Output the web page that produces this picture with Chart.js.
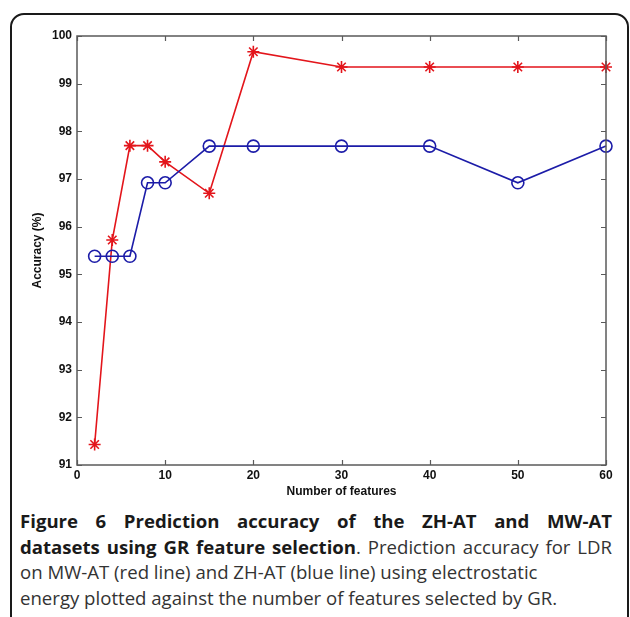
<!DOCTYPE html>
<html>
<head>
<meta charset="utf-8">
<script src="https://cdn.jsdelivr.net/npm/chart.js@4"></script>
<style>
  html, body { margin:0; padding:0; background:#fff; width:630px; height:617px; overflow:hidden; }
  #frame { position:absolute; left:10px; top:13px; width:615px; height:640px; border:2px solid #1a1a1a; border-radius:14px; }
  #wrap { position:absolute; left:0; top:0; width:630px; height:500px; }
  #caption { position:absolute; left:20px; top:508px; width:592px; font-family:"Open Sans", sans-serif; font-size:18.6px; line-height:25.5px; color:#333; white-space:nowrap; }
  #caption .j { text-align:justify; text-align-last:justify; white-space:normal; }
  #caption b { color:#1a1a1a; font-weight:700; }
</style>
</head>
<body>
<div id="frame"></div>
<div id="wrap"><canvas id="c" width="630" height="500"></canvas></div>
<div id="caption">
  <div class="j"><b>Figure 6 Prediction accuracy of the ZH-AT and MW-AT</b></div>
  <div class="j"><b>datasets using GR feature selection</b>. Prediction accuracy for LDR</div>
  <div>on MW-AT (red line) and ZH-AT (blue line) using electrostatic</div>
  <div>energy plotted against the number of features selected by GR.</div>
</div>
<script>
const featureCounts = [2, 4, 6, 8, 10, 15, 20, 30, 40, 50, 60];
const mwAtAccuracy = [91.43, 95.72, 97.70, 97.70, 97.36, 96.70, 99.67, 99.35, 99.35, 99.35, 99.35];
const zhAtAccuracy = [95.38, 95.38, 95.38, 96.92, 96.92, 97.69, 97.69, 97.69, 97.69, 96.92, 97.69];
const xTicks = [0, 10, 20, 30, 40, 50, 60];
const yTicks = [91, 92, 93, 94, 95, 96, 97, 98, 99, 100];

const toPoints = (xs, ys) => xs.map((x, i) => ({x: x, y: ys[i]}));

const boxPlugin = {
  id: 'matlabBox',
  afterDraw(chart) {
    const {ctx, chartArea: a, scales} = chart;
    ctx.save();
    ctx.strokeStyle = '#5a5a5a';
    ctx.lineWidth = 1.5;
    ctx.strokeRect(a.left, a.top, a.right - a.left, a.bottom - a.top);
    ctx.lineWidth = 1.2;
    const L = 5;
    ctx.beginPath();
    scales.x.ticks.forEach(t => {
      const px = Math.round(scales.x.getPixelForValue(t.value)) + 0.5;
      ctx.moveTo(px, a.bottom); ctx.lineTo(px, a.bottom - L);
      ctx.moveTo(px, a.top); ctx.lineTo(px, a.top + L);
    });
    scales.y.ticks.forEach(t => {
      const py = Math.round(scales.y.getPixelForValue(t.value)) + 0.5;
      ctx.moveTo(a.left, py); ctx.lineTo(a.left + L, py);
      ctx.moveTo(a.right, py); ctx.lineTo(a.right - L, py);
    });
    ctx.stroke();
    ctx.restore();
  }
};

const axisFont = { family: 'Liberation Sans, Arial, sans-serif', size: 12, weight: 'bold' };

new Chart(document.getElementById('c'), {
  type: 'line',
  data: {
    datasets: [
      {
        label: 'MW-AT',
        data: toPoints(featureCounts, mwAtAccuracy),
        borderColor: '#e3151b',
        backgroundColor: '#e3151b',
        borderWidth: 1.6,
        pointStyle: 'star',
        pointRadius: 6,
        pointBorderWidth: 1.6,
        pointBorderColor: '#e3151b',
        tension: 0,
        clip: false,
        order: 2
      },
      {
        label: 'ZH-AT',
        data: toPoints(featureCounts, zhAtAccuracy),
        borderColor: '#1c1ca8',
        backgroundColor: 'rgba(0,0,0,0)',
        borderWidth: 1.6,
        pointStyle: 'circle',
        pointRadius: 6,
        pointBorderWidth: 1.6,
        pointBorderColor: '#1c1ca8',
        pointBackgroundColor: 'rgba(0,0,0,0)',
        tension: 0,
        clip: false,
        order: 1
      }
    ]
  },
  options: {
    responsive: false,
    animation: false,
    events: [],
    layout: { padding: { top: 36, right: 24, left: 0, bottom: 0 } },
    plugins: { legend: { display: false }, tooltip: { enabled: false } },
    scales: {
      x: {
        type: 'linear',
        min: 0, max: 60,
        afterBuildTicks: s => { s.ticks = xTicks.map(v => ({value: v})); },
        afterFit: s => { s.height = 35; },
        grid: { display: false, drawTicks: false },
        border: { display: false },
        ticks: { padding: 3, color: '#111', font: axisFont, maxRotation: 0 },
        title: { display: true, text: 'Number of features', color: '#111', padding: { top: 0, bottom: 1 }, font: axisFont }
      },
      y: {
        type: 'linear',
        min: 91, max: 100,
        afterBuildTicks: s => { s.ticks = yTicks.map(v => ({value: v})); },
        afterFit: s => { s.width = 77; },
        grid: { display: false, drawTicks: false },
        border: { display: false },
        ticks: { padding: 5, color: '#111', font: axisFont },
        title: { display: true, text: 'Accuracy (%)', color: '#111', padding: { top: 30, bottom: 0 }, font: axisFont }
      }
    }
  },
  plugins: [boxPlugin]
});
</script>
</body>
</html>
